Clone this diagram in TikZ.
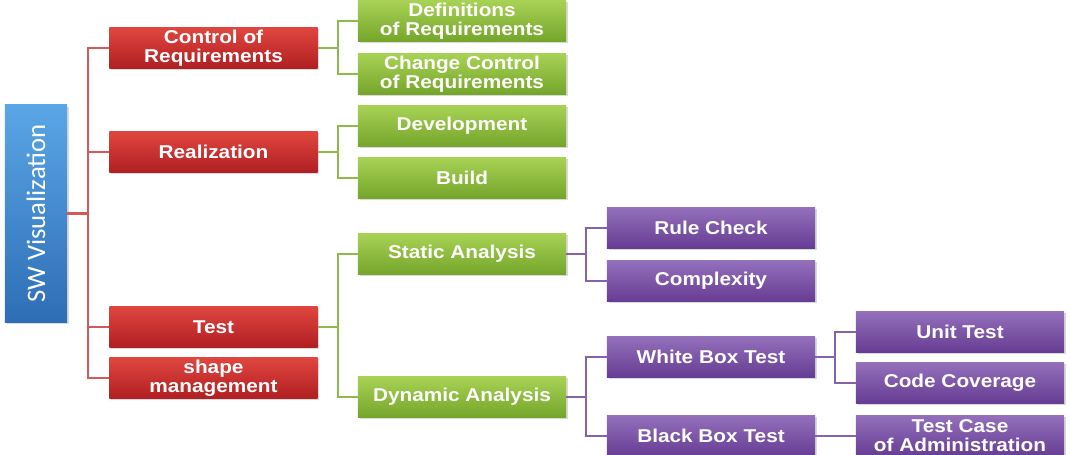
\documentclass[tikz,border=0pt]{standalone}
\usepackage{fontspec}
\setmainfont[FakeStretch=1.12]{Liberation Sans}
\newfontfamily\rootfont{Carlito}
\usetikzlibrary{shadows}
\definecolor{redtop}{HTML}{E0463F}
\definecolor{redbot}{HTML}{B01F22}
\definecolor{greentop}{HTML}{A8D255}
\definecolor{greenbot}{HTML}{74A52A}
\definecolor{purpletop}{HTML}{9470BC}
\definecolor{purplebot}{HTML}{663C92}
\definecolor{bluetop}{HTML}{5AA6E6}
\definecolor{bluebot}{HTML}{2E6DB5}
\definecolor{redline}{HTML}{D45A5A}
\definecolor{greenline}{HTML}{8DBB48}
\definecolor{purpleline}{HTML}{8463A8}

\begin{document}
\begin{tikzpicture}[
  x=0.025cm, y=-0.025cm,
  font=\fontsize{13.2}{13.5}\selectfont\bfseries,
  box/.style={rectangle, text=white, minimum width=5.2cm, minimum height=1.03cm,
              align=center, inner sep=1pt,
              drop shadow={opacity=0.3, shadow xshift=1.2pt, shadow yshift=-1.2pt}},
  redbox/.style={box, top color=redtop, bottom color=redbot},
  greenbox/.style={box, top color=greentop, bottom color=greenbot},
  purplebox/.style={box, top color=purpletop, bottom color=purplebot},
  rootbox/.style={box, rotate=90, top color=bluetop, bottom color=bluebot,
                  minimum width=5.43cm, minimum height=1.55cm,
                  font=\rootfont\fontsize{19}{20}\selectfont},
  rlink/.style={draw=redline, line width=1.6pt},
  glink/.style={draw=greenline, line width=1.6pt},
  plink/.style={draw=purpleline, line width=1.6pt}
]
  \useasboundingbox (0,0) rectangle (1070,454);

  % root
  \node[rootbox] (root) at (36,213.5) {SW Visualization};

  % first level
  \node[redbox] (ctrl)  at (213.5,48)  {Control of\\Requirements};
  \node[redbox] (real)  at (213.5,152) {Realization};
  \node[redbox] (test)  at (213.5,327) {Test};
  \node[redbox] (shape) at (213.5,378) {shape\\management};

  % second level
  \node[greenbox] (defs)  at (462,21)  {Definitions\\of Requirements};
  \node[greenbox] (chg)   at (462,74)  {Change Control\\of Requirements};
  \node[greenbox] (dev)   at (462,126) {Development};
  \node[greenbox] (build) at (462,178) {Build};
  \node[greenbox] (stat)  at (462,254) {Static Analysis};
  \node[greenbox] (dyn)   at (462,397) {Dynamic Analysis};

  % third level
  \node[purplebox] (rule)  at (711,228) {Rule Check};
  \node[purplebox] (cplx)  at (711,281) {Complexity};
  \node[purplebox] (wbox)  at (711,357) {White Box Test};
  \node[purplebox] (bbox)  at (711,436) {Black Box Test};

  % fourth level
  \node[purplebox] (unit)  at (960,332) {Unit Test};
  \node[purplebox] (cov)   at (960,383) {Code Coverage};
  \node[purplebox] (tcase) at (960,436) {Test Case\\of Administration};

  % links
  \foreach \n in {ctrl,real,test,shape} \draw[rlink] (root.south) -- ++(21,0) |- (\n.west);
  \foreach \n in {defs,chg} \draw[glink] (ctrl.east) -- ++(20,0) |- (\n.west);
  \foreach \n in {dev,build} \draw[glink] (real.east) -- ++(20,0) |- (\n.west);
  \foreach \n in {stat,dyn} \draw[glink] (test.east) -- ++(20,0) |- (\n.west);
  \foreach \n in {rule,cplx} \draw[plink] (stat.east) -- ++(20,0) |- (\n.west);
  \foreach \n in {wbox,bbox} \draw[plink] (dyn.east) -- ++(20,0) |- (\n.west);
  \foreach \n in {unit,cov} \draw[plink] (wbox.east) -- ++(20,0) |- (\n.west);
  \draw[plink] (bbox.east) -- (tcase.west);
\end{tikzpicture}
\end{document}
